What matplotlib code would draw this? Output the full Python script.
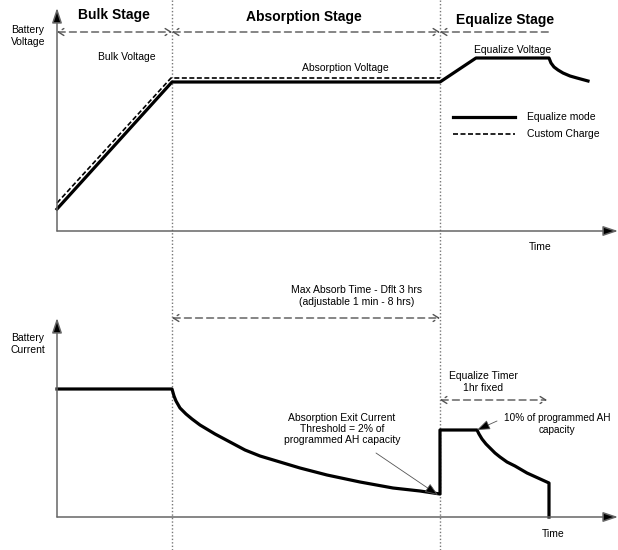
import matplotlib.pyplot as plt
from matplotlib.patches import FancyArrowPatch

plt.rcParams['font.family'] = ['Liberation Sans', 'DejaVu Sans']

# stage boundaries (pixel positions on the time axis)
stage_x = [172, 440]
stage_names = ['Bulk Stage', 'Absorption Stage', 'Equalize Stage']
stage_label_x = [114, 304, 505]
stage_label_y = [15, 17, 20]

# voltage traces (x, y in pixel space, y down)
volt_eq_x = [57, 172, 440, 476, 549, 551, 554, 558, 563, 570, 577, 588]
volt_eq_y = [209, 82, 82, 58, 58, 63, 67, 70, 73, 76, 78, 81]
volt_cc_x = [57, 171, 440]
volt_cc_y = [203, 78, 78]

# current traces
cur_x = [57, 172, 174, 176, 180, 186, 192, 200, 215, 230, 245, 260, 280, 300,
         327, 360, 393, 420, 440,
         440, 477, 479, 482, 486, 490, 495, 500, 507, 515, 527, 538, 549, 549]
cur_y = [389, 389, 396, 401, 408, 414, 419, 425, 434, 442, 450, 456, 462, 468,
         475, 482, 488, 491, 494,
         430, 430, 434, 439, 444, 448, 453, 457, 462, 466, 473, 478, 483, 517]

fig = plt.figure(figsize=(6.18, 5.5), dpi=100)
ax = fig.add_axes([0, 0, 1, 1])
ax.set_xlim(0, 618)
ax.set_ylim(550, 0)
ax.axis('off')

axis_col = '#666666'

def axis_arrow(x0, y0, x1, y1):
    ax.annotate('', xy=(x1, y1), xytext=(x0, y0),
                arrowprops=dict(arrowstyle='-|>,head_length=0.9,head_width=0.3',
                                color=axis_col, lw=1.1, shrinkA=0, shrinkB=0,
                                fc='black', ec=axis_col))

def dash_arrow(x0, x1, y, style='<->'):
    p = FancyArrowPatch((x0, y), (x1, y), arrowstyle=style + ',head_length=4,head_width=2.5',
                        color='#555555', lw=1.0, linestyle=(0, (5, 3)),
                        shrinkA=0, shrinkB=0, mutation_scale=1)
    ax.add_patch(p)

# axes
axis_arrow(57, 231, 57, 8)
axis_arrow(57, 231, 618, 231)
axis_arrow(57, 517, 57, 318)
axis_arrow(57, 517, 618, 517)

# stage separators
for sx in stage_x:
    ax.plot([sx, sx], [0, 550], color='#777777', lw=1.0, ls=(0, (1, 1.5)))

for name, lx, ly in zip(stage_names, stage_label_x, stage_label_y):
    ax.text(lx, ly, name, ha='center', va='center', fontsize=10, fontweight='bold')

dash_arrow(57, 172, 32)
dash_arrow(172, 440, 32)
dash_arrow(440, 551, 32, style='<-')

# voltage panel
ax.plot(volt_eq_x, volt_eq_y, color='black', lw=2.3, solid_joinstyle='round')
ax.plot(volt_cc_x, volt_cc_y, color='black', lw=1.2, ls=(0, (3, 1.5)))
ax.text(28, 36, 'Battery\nVoltage', ha='center', va='center', fontsize=7.5, linespacing=1.3)
ax.text(127, 57, 'Bulk Voltage', ha='center', va='center', fontsize=7.5)
ax.text(345, 68, 'Absorption Voltage', ha='center', va='center', fontsize=7.5)
ax.text(513, 50, 'Equalize Voltage', ha='center', va='center', fontsize=7.5)
ax.text(540, 247, 'Time', ha='center', va='center', fontsize=7.5)

# legend
ax.plot([453, 515], [117, 117], color='black', lw=2.3)
ax.plot([453, 515], [134, 134], color='black', lw=1.2, ls=(0, (3, 1.5)))
ax.text(527, 117, 'Equalize mode', ha='left', va='center', fontsize=7.5)
ax.text(527, 134, 'Custom Charge', ha='left', va='center', fontsize=7.5)

# current panel
ax.plot(cur_x, cur_y, color='black', lw=2.3, solid_joinstyle='round')
ax.text(28, 344, 'Battery\nCurrent', ha='center', va='center', fontsize=7.5, linespacing=1.3)
ax.text(357, 296, 'Max Absorb Time - Dflt 3 hrs\n(adjustable 1 min - 8 hrs)',
        ha='center', va='center', fontsize=7.5, linespacing=1.2)
dash_arrow(172, 440, 318)
ax.text(483, 382, 'Equalize Timer\n1hr fixed', ha='center', va='center', fontsize=7.5, linespacing=1.2)
dash_arrow(440, 547, 400)
ax.text(342, 429, 'Absorption Exit Current\nThreshold = 2% of\nprogrammed AH capacity',
        ha='center', va='center', fontsize=7.5, linespacing=1.15)
ax.annotate('', xy=(438, 495), xytext=(376, 453),
            arrowprops=dict(arrowstyle='-|>,head_length=0.8,head_width=0.3',
                            color='#555555', lw=0.6, fc='black', shrinkA=0, shrinkB=0))
ax.text(557, 424, '10% of programmed AH\ncapacity', ha='center', va='center', fontsize=7.2, linespacing=1.15)
ax.annotate('', xy=(477, 430), xytext=(497, 421),
            arrowprops=dict(arrowstyle='-|>,head_length=0.8,head_width=0.3',
                            color='#555555', lw=0.6, fc='black', shrinkA=0, shrinkB=0))
ax.text(553, 534, 'Time', ha='center', va='center', fontsize=7.5)

fig.savefig('out.png', dpi=100)
